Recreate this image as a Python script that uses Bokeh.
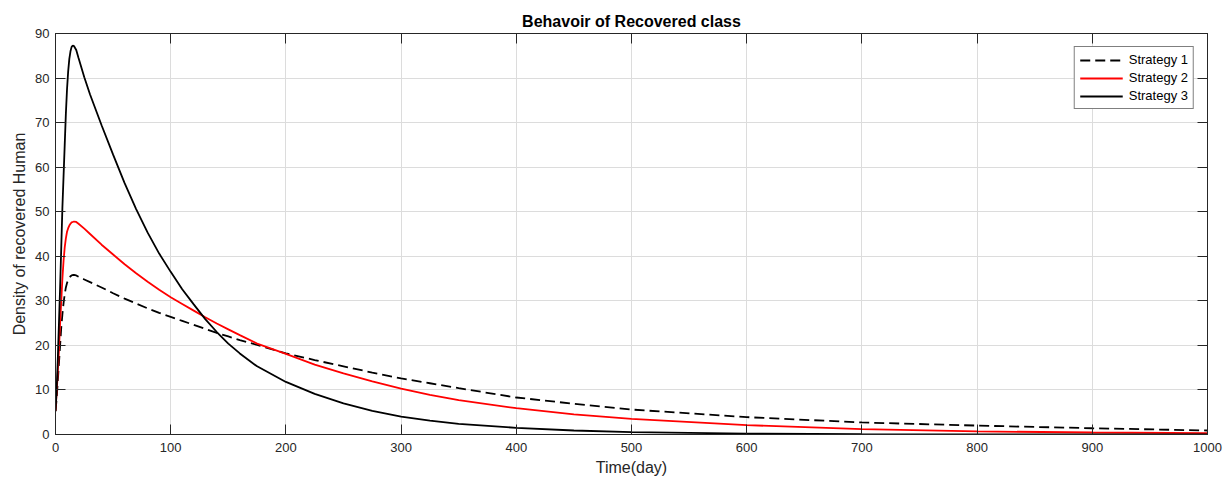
from bokeh.plotting import figure
from bokeh.models import (LinearAxis, FixedTicker, CustomJSTickFormatter, Range1d,
                          Legend, LegendItem, ColumnDataSource)
from bokeh.embed import file_html
from bokeh.resources import INLINE

# ---- data ----
time_day = [0, 1, 2, 3, 4, 5, 6, 7, 8, 9, 10, 11, 12, 13, 14, 15, 16, 18, 20, 25, 30,
            40, 50, 60, 70, 80, 90, 100, 110, 120, 130, 140, 150, 160, 175, 200, 225,
            250, 275, 300, 325, 350, 400, 450, 500, 600, 700, 800, 900, 1000]

strategy1 = [5.3, 8, 12, 16, 20, 24, 27, 29.5, 31.5, 33, 34, 34.7, 35.2, 35.5, 35.7, 35.8,
             35.8, 35.7, 35.4, 34.8, 34.2, 33, 31.7, 30.5, 29.4, 28.3, 27.3, 26.4, 25.5,
             24.6, 23.7, 22.8, 22.0, 21.2, 20.1, 18.2, 16.7, 15.3, 13.9, 12.6, 11.5, 10.4,
             8.3, 6.9, 5.6, 3.9, 2.7, 2.0, 1.4, 0.9]

strategy2 = [5.3, 9.5, 14, 19, 25, 30, 35, 39, 42, 44, 45.5, 46.3, 46.9, 47.3, 47.6, 47.7,
             47.8, 47.7, 47.3, 46.2, 45, 42.6, 40.4, 38.2, 36.2, 34.3, 32.5, 30.8, 29.3,
             27.8, 26.3, 24.9, 23.6, 22.3, 20.4, 18.1, 15.7, 13.7, 11.9, 10.3, 8.9, 7.7,
             5.9, 4.5, 3.5, 2.1, 1.2, 0.7, 0.45, 0.3]

strategy3 = [5.2, 10, 17, 25, 33, 42, 51, 58, 65, 72, 77.5, 81.5, 84.3, 86, 87, 87.3, 87.2,
             86.3, 84.5, 80.2, 76.3, 69.4, 62.8, 56.4, 50.6, 45.3, 40.6, 36.5, 32.6, 29.2,
             25.9, 23.0, 20.4, 18.2, 15.3, 11.8, 9.1, 7.0, 5.3, 4.0, 3.1, 2.4, 1.5, 0.9,
             0.55, 0.2, 0.08, 0.03, 0.01, 0.0]

series_names = ["Strategy 1", "Strategy 2", "Strategy 3"]
x_ticks = list(range(0, 1001, 100))
y_ticks = list(range(0, 91, 10))

src = ColumnDataSource(dict(t=time_day, s1=strategy1, s2=strategy2, s3=strategy3))

FONT = "Liberation Sans"
AX = "#262626"

p = figure(width=1230, height=483, x_range=Range1d(0, 1000), y_range=Range1d(0, 90),
           output_backend="svg", toolbar_location=None,
           title="Behavoir of Recovered class",
           min_border_left=55, min_border_right=23, min_border_top=33, min_border_bottom=49)

p.title.text_font = FONT
p.title.text_font_size = "16px"
p.title.text_font_style = "bold"
p.title.align = "center"
p.title.text_color = "black"
p.title.standoff = 7

p.outline_line_color = AX
p.background_fill_color = "white"

xt = FixedTicker(ticks=x_ticks)
yt = FixedTicker(ticks=y_ticks)
bottom_ax = p.xaxis[0]
left_ax = p.yaxis[0]
bottom_ax.ticker = xt
left_ax.ticker = yt
p.xgrid.ticker = xt
p.ygrid.ticker = yt
p.grid.grid_line_color = "#dcdcdc"
p.grid.grid_line_width = 1

bottom_ax.axis_label = "Time(day)"
left_ax.axis_label = "Density of recovered Human"

top_ax = LinearAxis(ticker=xt, formatter=CustomJSTickFormatter(code="return ''"))
right_ax = LinearAxis(ticker=yt, formatter=CustomJSTickFormatter(code="return ''"))
p.add_layout(top_ax, "above")
p.add_layout(right_ax, "right")

for ax in [bottom_ax, left_ax, top_ax, right_ax]:
    ax.major_tick_in = 10
    ax.major_tick_out = 0
    ax.minor_tick_line_color = None
    ax.axis_line_color = AX
    ax.major_tick_line_color = AX
    ax.major_label_text_font = FONT
    ax.major_label_text_font_size = "13px"
    ax.major_label_text_color = AX
    ax.axis_label_text_font = FONT
    ax.axis_label_text_font_size = "16px"
    ax.axis_label_text_font_style = "normal"
    ax.axis_label_text_color = AX

top_ax.major_label_standoff = 0
right_ax.major_label_standoff = 0
bottom_ax.major_label_standoff = 8
bottom_ax.axis_label_standoff = 4
left_ax.major_label_standoff = 6
left_ax.axis_label_standoff = 4

r1 = p.line("t", "s1", source=src, line_color="black", line_width=1.8, line_dash="10 5")
r2 = p.line("t", "s2", source=src, line_color="#ff0000", line_width=1.8)
r3 = p.line("t", "s3", source=src, line_color="black", line_width=1.8)

legend = Legend(items=[LegendItem(label=series_names[0], renderers=[r1]),
                       LegendItem(label=series_names[1], renderers=[r2]),
                       LegendItem(label=series_names[2], renderers=[r3])],
                location="top_right")
legend.border_line_color = "black"
legend.border_line_width = 1
legend.background_fill_alpha = 1
legend.label_text_font = FONT
legend.label_text_font_size = "13px"
legend.label_text_color = "black"
legend.glyph_width = 43
legend.glyph_height = 14
legend.label_height = 14
legend.label_standoff = 6
legend.padding = 5
legend.spacing = 3
legend.margin = 13
p.add_layout(legend)

open("out.html", "w").write(file_html(p, INLINE))
